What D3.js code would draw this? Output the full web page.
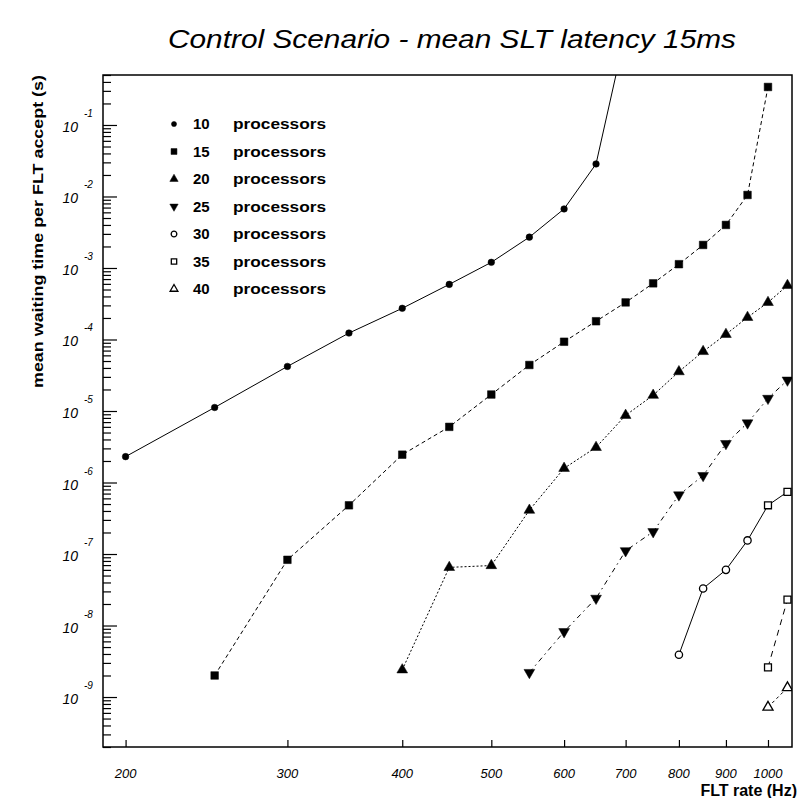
<!DOCTYPE html>
<html><head><meta charset="utf-8">
<script src="https://cdn.jsdelivr.net/npm/d3@7"></script>
<style>body{margin:0;background:#fff}svg{display:block}</style>
</head><body>
<svg id="c" width="798" height="798"></svg>
<script>
// ---------------- data ----------------
const titleText = "Control Scenario - mean SLT latency 15ms";
const yAxisTitle = "mean waiting time per FLT accept (s)";
const xAxisTitle = "FLT rate (Hz)";
const xTickValues = [200, 300, 400, 500, 600, 700, 800, 900, 1000];
const yDecadeExponents = [-1, -2, -3, -4, -5, -6, -7, -8, -9];

const legendNumbers = ["10", "15", "20", "25", "30", "35", "40"];
const legendWord = "processors";

const rates10 = [200, 250, 300, 350, 400, 450, 500, 550, 600, 650, 700];
const wait10 = [2.3e-6, 1.12e-5, 4.2e-5, 1.23e-4, 2.73e-4, 5.9e-4, 1.2e-3, 2.7e-3, 6.7e-3, 2.85e-2, 2.0];

const rates15 = [250, 300, 350, 400, 450, 500, 550, 600, 650, 700, 750, 800, 850, 900, 950, 1000];
const wait15 = [2.0e-9, 8.3e-8, 4.8e-7, 2.45e-6, 6.0e-6, 1.7e-5, 4.4e-5, 9.3e-5, 1.8e-4, 3.3e-4, 6.1e-4, 1.13e-3, 2.1e-3, 4.0e-3, 1.05e-2, 0.34];

const rates20 = [400, 450, 500, 550, 600, 650, 700, 750, 800, 850, 900, 950, 1000, 1050];
const wait20 = [2.4e-9, 6.5e-8, 6.9e-8, 4.1e-7, 1.58e-6, 3.1e-6, 8.7e-6, 1.66e-5, 3.55e-5, 6.8e-5, 1.18e-4, 2.04e-4, 3.3e-4, 5.7e-4];

const rates25 = [550, 600, 650, 700, 750, 800, 850, 900, 950, 1000, 1050];
const wait25 = [2.2e-9, 8.2e-9, 2.4e-8, 1.11e-7, 2.05e-7, 6.7e-7, 1.25e-6, 3.5e-6, 6.8e-6, 1.5e-5, 2.7e-5];

const rates30 = [800, 850, 900, 950, 1000, 1050];
const wait30 = [3.9e-9, 3.3e-8, 6.0e-8, 1.55e-7, 4.8e-7, 7.4e-7];
const markers30 = ["circleOpen", "circleOpen", "circleOpen", "circleOpen", "squareOpen", "squareOpen"];

const rates35 = [1000, 1050];
const wait35 = [2.6e-9, 2.3e-8];

const rates40 = [1000, 1050];
const wait40 = [7.2e-10, 1.35e-9];

// ---------------- build ----------------
const series = [
  {rates: rates10, vals: wait10, marker: "circle", dash: null},
  {rates: rates15, vals: wait15, marker: "square", dash: "4,3"},
  {rates: rates20, vals: wait20, marker: "triangle", dash: "2,2"},
  {rates: rates25, vals: wait25, marker: "triangleDown", dash: "5,4,1.5,4"},
  {rates: rates30, vals: wait30, marker: markers30, dash: null},
  {rates: rates35, vals: wait35, marker: "squareOpen", dash: "6,5"},
  {rates: rates40, vals: wait40, marker: "triangleOpen", dash: "3,3"}
];
const legendMarkers = ["circle", "square", "triangle", "triangleDown", "circleOpen", "squareOpen", "triangleOpen"];

const svg = d3.select("#c");
const L = 103, R = 792, T = 75, B = 747;
const x = d3.scaleLog().domain([189, 1062]).range([L, R]);
const y = d3.scaleLog().domain([2e-10, 0.5]).range([B, T]);

const font = "'Liberation Sans', Arial, Helvetica, sans-serif";

function symbolPath(kind, scale) {
  const s = scale || 1;
  switch (kind) {
    case "circle": return d3.symbol(d3.symbolCircle, 34 * s)();
    case "square": return d3.symbol(d3.symbolSquare, 58 * s)();
    case "triangle": return d3.symbol(d3.symbolTriangle, 50 * s)();
    case "triangleDown": return d3.symbol(d3.symbolTriangle, 50 * s)();
    case "circleOpen": return d3.symbol(d3.symbolCircle, 42 * s)();
    case "squareOpen": return d3.symbol(d3.symbolSquare, 48 * s)();
    case "triangleOpen": return d3.symbol(d3.symbolTriangle, 44 * s)();
  }
}
function drawMarker(g, kind, px, py, scale) {
  const open = kind.endsWith("Open");
  g.append("path")
    .attr("d", symbolPath(kind, scale))
    .attr("transform", `translate(${px},${py})` + (kind === "triangleDown" ? " rotate(180)" : ""))
    .attr("fill", open ? "#fff" : "#000")
    .attr("stroke", "#000")
    .attr("stroke-width", open ? 1.3 : 0.5);
}

// clip
svg.append("defs").append("clipPath").attr("id", "clip")
  .append("rect").attr("x", L).attr("y", T).attr("width", R - L).attr("height", B - T);

const plot = svg.append("g").attr("clip-path", "url(#clip)");
const line = d3.line().x(d => x(d[0])).y(d => y(d[1]));

series.forEach(s => {
  const pts = s.rates.map((r, i) => [r, s.vals[i]]);
  plot.append("path")
    .attr("d", line(pts))
    .attr("fill", "none")
    .attr("stroke", "#000")
    .attr("stroke-width", 1)
    .attr("stroke-dasharray", s.dash);
});
series.forEach(s => {
  s.rates.forEach((r, i) => {
    const kind = Array.isArray(s.marker) ? s.marker[i] : s.marker;
    drawMarker(plot, kind, x(r), y(s.vals[i]), 1);
  });
});

// frame
svg.append("rect").attr("x", L).attr("y", T).attr("width", R - L).attr("height", B - T)
  .attr("fill", "none").attr("stroke", "#000").attr("stroke-width", 1.5);

// x axis ticks (inside) & labels
const xAxis = d3.axisTop(x).tickValues(xTickValues).tickSize(7).tickFormat("");
svg.append("g").attr("transform", `translate(0,${B})`).call(xAxis)
  .call(g => g.select(".domain").remove())
  .call(g => g.selectAll("line").attr("stroke", "#000").attr("stroke-width", 1.2));
svg.append("g").selectAll("text").data(xTickValues).join("text")
  .attr("x", d => x(d)).attr("y", 778)
  .attr("text-anchor", "middle")
  .attr("font-family", font).attr("font-style", "italic")
  .attr("font-size", 13).text(d => d);

// y axis ticks (inside)
const yTicks = y.ticks().filter(v => v >= 2e-10 && v <= 0.5);
const isMajor = v => Math.abs(Math.log10(v) - Math.round(Math.log10(v))) < 1e-9;
const yAxisMinor = d3.axisRight(y).tickValues(yTicks.filter(v => !isMajor(v))).tickSize(8).tickFormat("");
const yAxisMajor = d3.axisRight(y).tickValues(yTicks.filter(isMajor)).tickSize(14).tickFormat("");
[yAxisMinor, yAxisMajor].forEach(ax => {
  svg.append("g").attr("transform", `translate(${L},0)`).call(ax)
    .call(g => g.select(".domain").remove())
    .call(g => g.selectAll("line").attr("stroke", "#000").attr("stroke-width", 1.2));
});
const yl = svg.append("g");
yDecadeExponents.forEach(e => {
  const py = y(Math.pow(10, e));
  yl.append("text").attr("x", 78).attr("y", py + 7).attr("text-anchor", "end")
    .attr("font-family", font).attr("font-style", "italic").attr("font-size", 14).text("10");
  yl.append("text").attr("x", 84).attr("y", py - 8).attr("text-anchor", "start")
    .attr("font-family", font).attr("font-style", "italic").attr("font-size", 10).text(String(e));
});

// titles
svg.append("text").attr("x", 168).attr("y", 48)
  .attr("font-family", font).attr("font-style", "italic").attr("font-size", 25)
  .attr("textLength", 568).attr("lengthAdjust", "spacingAndGlyphs")
  .text(titleText);

svg.append("text").attr("transform", "translate(43,75) rotate(-90)")
  .attr("text-anchor", "end")
  .attr("font-family", font).attr("font-weight", "bold").attr("font-size", 15)
  .attr("textLength", 313).attr("lengthAdjust", "spacingAndGlyphs")
  .text(yAxisTitle);

svg.append("text").attr("x", 797).attr("y", 796).attr("text-anchor", "end")
  .attr("font-family", font).attr("font-weight", "bold").attr("font-size", 16)
  .text(xAxisTitle);

// legend
const lg = svg.append("g");
legendNumbers.forEach((n, i) => {
  const cy = 124 + i * 27.5;
  drawMarker(lg, legendMarkers[i], 174, cy, 0.6);
  lg.append("text").attr("x", 193).attr("y", cy + 5)
    .attr("font-family", font).attr("font-weight", "bold").attr("font-size", 15).text(n);
  lg.append("text").attr("x", 233).attr("y", cy + 5)
    .attr("font-family", font).attr("font-weight", "bold").attr("font-size", 15)
    .attr("textLength", 93).attr("lengthAdjust", "spacingAndGlyphs").text(legendWord);
});
</script>
</body></html>
